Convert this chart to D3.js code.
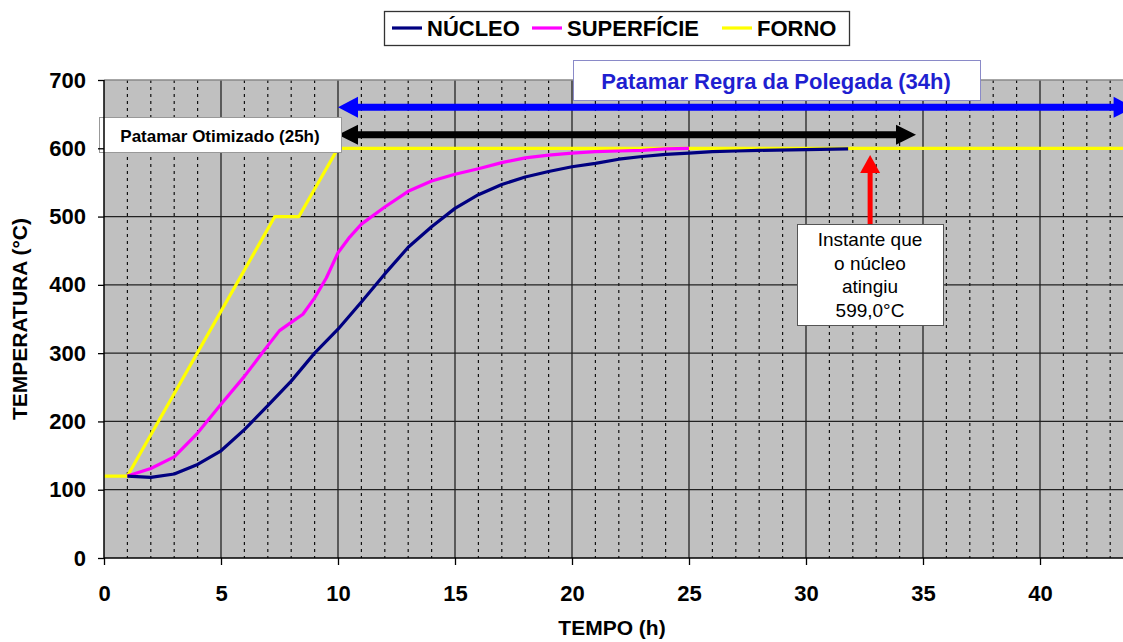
<!DOCTYPE html>
<html>
<head>
<meta charset="utf-8">
<script src="https://cdn.jsdelivr.net/npm/d3@7"></script>
<style>
  body { margin: 0; background: #fff; }
  text { font-family: Arial, "Liberation Sans", sans-serif; }
</style>
</head>
<body>
<div id="chart"></div>
<script>
// series (hours, °C)
const nucleoHours = [1, 2, 3, 4, 5, 6, 7, 8, 9, 10, 11, 12, 13, 14, 15, 16, 17, 18, 19, 20, 21, 22, 23, 24, 25, 26, 27, 28, 30, 31.8];
const nucleoTemp  = [120, 118, 123, 137, 157, 188, 223, 259, 300, 335, 375, 416, 455, 485, 512, 532, 547, 558, 566, 573, 578, 584, 588, 591, 593, 595, 596, 597, 598, 599];

const superficieHours = [1, 2, 3, 4, 5, 6, 7, 7.5, 8, 8.5, 9, 9.5, 10, 10.5, 11, 12, 13, 14, 15, 16, 17, 18, 19, 20, 21, 22, 23, 24, 25];
const superficieTemp  = [120, 131, 148, 183, 225, 266, 311, 333, 345, 357, 381, 410, 447, 470, 489, 514, 537, 552, 562, 570, 579, 586, 590, 593, 595, 596, 597, 599, 600];

const fornoHours = [0, 1, 7.3, 8.33, 10, 45];
const fornoTemp  = [120, 120, 500, 500, 600, 600];

const seriesNames  = ["NÚCLEO", "SUPERFÍCIE", "FORNO"];
const seriesColors = ["#000080", "#ff00ff", "#ffff00"];

const xTicks = [0, 5, 10, 15, 20, 25, 30, 35, 40];
const yTicks = [0, 100, 200, 300, 400, 500, 600, 700];

// annotations: hour spans and temperatures
const regraSpan = [10, 44];      const regraTemp = 660;
const otimizadoSpan = [10, 34.7]; const otimizadoTemp = 620;
const instanteHour = 32.74;      const instanteTemps = [489, 590];
const instanteLines = ["Instante que", "o núcleo", "atingiu", "599,0°C"];

const W = 1123, H = 642;
const svg = d3.select("#chart").append("svg")
    .attr("width", W).attr("height", H)
    .style("display", "block");

const x = d3.scaleLinear().domain([0, 45]).range([104, 104 + 45 * 23.4]);
const y = d3.scaleLinear().domain([0, 700]).range([558, 80]);

// plot area
svg.append("rect")
    .attr("x", x(0)).attr("y", y(700))
    .attr("width", W - x(0)).attr("height", y(0) - y(700))
    .attr("fill", "#c0c0c0");

// minor dotted verticals
svg.append("g").selectAll("line")
    .data(d3.range(1, 45).filter(h => h % 5 !== 0))
    .join("line")
    .attr("x1", d => x(d)).attr("x2", d => x(d))
    .attr("y1", y(700)).attr("y2", y(0))
    .attr("stroke", "#111").attr("stroke-width", 1.2)
    .attr("stroke-dasharray", "3,4");

// major verticals
svg.append("g").selectAll("line")
    .data(xTicks.filter(h => h > 0))
    .join("line")
    .attr("x1", d => x(d)).attr("x2", d => x(d))
    .attr("y1", y(700)).attr("y2", y(0))
    .attr("stroke", "#222").attr("stroke-width", 1.3);

// horizontals
svg.append("g").selectAll("line")
    .data(yTicks.filter(t => t > 0))
    .join("line")
    .attr("x1", x(0)).attr("x2", W)
    .attr("y1", d => y(d)).attr("y2", d => y(d))
    .attr("stroke", d => d === 700 ? "#888" : "#222")
    .attr("stroke-width", 1.3);

// curves
const line = d3.line().x(d => x(d[0])).y(d => y(d[1]));
const series = [
    d3.zip(nucleoHours, nucleoTemp),
    d3.zip(superficieHours, superficieTemp),
    d3.zip(fornoHours, fornoTemp)
];
svg.append("g").selectAll("path")
    .data([2, 1, 0])
    .join("path")
    .attr("d", i => line(series[i]))
    .attr("fill", "none")
    .attr("stroke", i => seriesColors[i])
    .attr("stroke-width", 3.2)
    .attr("stroke-linejoin", "round");

// double-headed horizontal arrow
function hArrow(span, temp, color, width, head, half) {
    const g = svg.append("g");
    const x0 = x(span[0]), x1 = x(span[1]), yy = y(temp);
    g.append("line")
        .attr("x1", x0 + head - 1).attr("x2", x1 - head + 1)
        .attr("y1", yy).attr("y2", yy)
        .attr("stroke", color).attr("stroke-width", width);
    g.append("path")
        .attr("d", `M${x0},${yy}L${x0 + head},${yy - half}L${x0 + head},${yy + half}Z`)
        .attr("fill", color);
    g.append("path")
        .attr("d", `M${x1},${yy}L${x1 - head},${yy - half}L${x1 - head},${yy + half}Z`)
        .attr("fill", color);
}
hArrow(regraSpan, regraTemp, "#0000ff", 7, 20, 10.5);
hArrow(otimizadoSpan, otimizadoTemp, "#000", 7, 20, 10);

// red vertical arrow
{
    const xx = x(instanteHour), yb = y(instanteTemps[0]), yt = y(instanteTemps[1]);
    svg.append("line")
        .attr("x1", xx).attr("x2", xx)
        .attr("y1", yb).attr("y2", yt + 16)
        .attr("stroke", "#ff0000").attr("stroke-width", 5);
    svg.append("path")
        .attr("d", `M${xx},${yt}L${xx - 10},${yt + 18}L${xx + 10},${yt + 18}Z`)
        .attr("fill", "#ff0000");
}

// label boxes
svg.append("rect")
    .attr("x", 573.5).attr("y", 60.5).attr("width", 407).attr("height", 40)
    .attr("fill", "#fff").attr("stroke", "#8a8ac8");
svg.append("text")
    .attr("x", 776).attr("y", 89)
    .attr("text-anchor", "middle")
    .attr("font-size", 22).attr("font-weight", "bold")
    .attr("fill", "#1f1fd0")
    .text("Patamar Regra da Polegada (34h)");

svg.append("rect")
    .attr("x", 99.5).attr("y", 117.5).attr("width", 242).attr("height", 35)
    .attr("fill", "#fff").attr("stroke", "#999");
svg.append("text")
    .attr("x", 220).attr("y", 142)
    .attr("text-anchor", "middle")
    .attr("font-size", 17).attr("font-weight", "bold")
    .attr("fill", "#000")
    .text("Patamar Otimizado (25h)");

svg.append("rect")
    .attr("x", 797.5).attr("y", 224.5).attr("width", 146).attr("height", 101)
    .attr("fill", "#fff").attr("stroke", "#555");
svg.append("g").selectAll("text")
    .data(instanteLines)
    .join("text")
    .attr("x", 870).attr("y", (d, i) => 246 + i * 23.7)
    .attr("text-anchor", "middle")
    .attr("font-size", 19)
    .attr("fill", "#000")
    .text(d => d);

// axes
const yAxis = svg.append("g")
    .attr("transform", `translate(${x(0)},0)`)
    .call(d3.axisLeft(y).tickValues(yTicks).tickSize(6).tickSizeOuter(0).tickPadding(12));
const xAxis = svg.append("g")
    .attr("transform", `translate(0,${y(0)})`)
    .call(d3.axisBottom(x).tickValues(xTicks).tickSize(7).tickSizeOuter(0).tickPadding(20));
[yAxis, xAxis].forEach(a => {
    a.select(".domain").attr("stroke", "#000").attr("stroke-width", 1.5);
    a.selectAll(".tick line").attr("stroke", "#000").attr("stroke-width", 1.3);
    a.selectAll(".tick text")
        .attr("font-family", "Arial, 'Liberation Sans', sans-serif")
        .attr("font-size", 22).attr("font-weight", "bold").attr("fill", "#000");
});
yAxis.select(".domain").attr("d", `M0,${y(700)}V${y(0)}`);
xAxis.select(".domain").attr("d", `M${x(0)},0H${W}`);

// axis titles
svg.append("text")
    .attr("transform", `translate(27,${(y(0) + y(700)) / 2}) rotate(-90)`)
    .attr("text-anchor", "middle")
    .attr("font-size", 21).attr("font-weight", "bold")
    .text("TEMPERATURA (°C)");
svg.append("text")
    .attr("x", 612).attr("y", 635)
    .attr("text-anchor", "middle")
    .attr("font-size", 21).attr("font-weight", "bold")
    .text("TEMPO (h)");

// legend
const legend = svg.append("g");
legend.append("rect")
    .attr("x", 384.5).attr("y", 11.5).attr("width", 465).attr("height", 34)
    .attr("fill", "#fff").attr("stroke", "#333").attr("stroke-width", 1.3);
const legendX = [392, 532, 722];
const item = legend.selectAll("g.item")
    .data(seriesNames)
    .join("g").attr("class", "item")
    .attr("transform", (d, i) => `translate(${legendX[i]},28)`);
item.append("line")
    .attr("x1", 0).attr("x2", 30).attr("y1", 0).attr("y2", 0)
    .attr("stroke", (d, i) => seriesColors[i]).attr("stroke-width", 3.2);
item.append("text")
    .attr("x", 35).attr("y", 8)
    .attr("font-size", 22).attr("font-weight", "bold")
    .text(d => d);
</script>
</body>
</html>
